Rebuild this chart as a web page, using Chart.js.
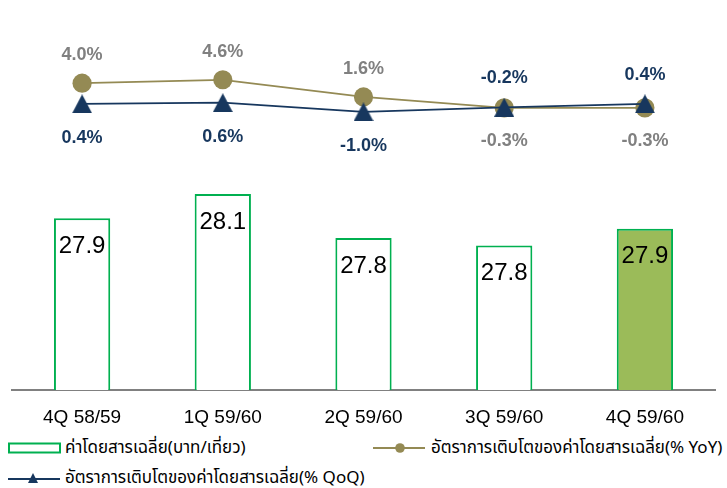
<!DOCTYPE html>
<html>
<head>
<meta charset="utf-8">
<script src="https://cdn.jsdelivr.net/npm/chart.js@4.4.1/dist/chart.umd.min.js"></script>
<style>
  html, body { margin: 0; padding: 0; background: #fff; }
  #wrap { position: relative; width: 727px; height: 488px; overflow: hidden; }
  #fareChart { position: absolute; left: 0; top: 0; }
  .legend-item { position: absolute; display: flex; align-items: center; font-family: "Noto Sans Thai", "Leelawadee UI", "Tahoma", "DejaVu Sans", sans-serif; font-size: 17px; color: #000; white-space: nowrap; height: 20px; }
  .legend-item svg { margin-right: 3px; }
</style>
</head>
<body>
<div id="wrap">
  <canvas id="fareChart" width="727" height="432"></canvas>
  <div class="legend-item" id="lgFare" style="left:8px; top:438px;"></div>
  <div class="legend-item" id="lgYoy" style="left:373px; top:438px;"></div>
  <div class="legend-item" id="lgQoq" style="left:8px; top:468px;"></div>
</div>
<script>
// data
const categories = ['4Q 58/59', '1Q 59/60', '2Q 59/60', '3Q 59/60', '4Q 59/60'];
const fareValues = [27.94, 28.10, 27.81, 27.76, 27.87];   // average fare (baht/trip)
const yoyGrowth = [4.0, 4.6, 1.6, -0.3, -0.3];             // % YoY
const qoqGrowth = [0.4, 0.6, -1.0, -0.2, 0.4];             // % QoQ
const seriesNames = [
  'ค่าโดยสารเฉลี่ย(บาท/เที่ยว)',
  'อัตราการเติบโตของค่าโดยสารเฉลี่ย(% YoY)',
  'อัตราการเติบโตของค่าโดยสารเฉลี่ย(% QoQ)'
];

const GREEN = '#00B050';
const OLIVE = '#948A54';
const NAVY = '#17375E';
const GREY_LABEL = '#808080';

// triangle marker centred on its bounding box (like the office chart)
function triangleMarker(w, h, color) {
  const c = document.createElement('canvas');
  c.width = w; c.height = h;
  const g = c.getContext('2d');
  g.fillStyle = color;
  g.beginPath();
  g.moveTo(w / 2, 0);
  g.lineTo(w, h);
  g.lineTo(0, h);
  g.closePath();
  g.fill();
  return c;
}

// value labels for bars and both lines
const valueLabels = {
  id: 'valueLabels',
  afterDatasetsDraw(chart) {
    const ctx = chart.ctx;
    ctx.save();
    ctx.textAlign = 'center';
    ctx.textBaseline = 'middle';

    ctx.font = '24px "Liberation Sans", Arial, sans-serif';
    ctx.fillStyle = '#000';
    chart.getDatasetMeta(0).data.forEach((bar, i) => {
      ctx.fillText(fareValues[i].toFixed(1), bar.x, bar.y + 28);
    });

    ctx.font = 'bold 18px "Liberation Sans", Arial, sans-serif';
    const yoyPts = chart.getDatasetMeta(1).data;
    const qoqPts = chart.getDatasetMeta(2).data;
    categories.forEach((_, i) => {
      const yoyUp = yoyGrowth[i] >= qoqGrowth[i];
      const p1 = yoyPts[i], p2 = qoqPts[i];
      ctx.fillStyle = GREY_LABEL;
      ctx.fillText(yoyGrowth[i].toFixed(1) + '%', p1.x, yoyUp ? p1.y - 28 : p1.y + 33);
      ctx.fillStyle = NAVY;
      ctx.fillText(qoqGrowth[i].toFixed(1) + '%', p2.x, yoyUp ? p2.y + 34 : p2.y - 29);
    });
    ctx.restore();
  }
};

const ctx = document.getElementById('fareChart').getContext('2d');
new Chart(ctx, {
  type: 'bar',
  data: {
    labels: categories,
    datasets: [
      {
        type: 'bar',
        label: seriesNames[0],
        data: fareValues,
        yAxisID: 'y',
        backgroundColor: fareValues.map((_, i) => i === fareValues.length - 1 ? '#9BBB59' : '#FFFFFF'),
        borderColor: GREEN,
        borderWidth: 2,
        barPercentage: 0.4,
        categoryPercentage: 1.0,
        order: 3
      },
      {
        type: 'line',
        label: seriesNames[1],
        data: yoyGrowth,
        yAxisID: 'y2',
        borderColor: OLIVE,
        borderWidth: 1.75,
        pointStyle: 'circle',
        pointRadius: 9.6,
        pointHoverRadius: 9.6,
        pointBackgroundColor: OLIVE,
        pointBorderColor: OLIVE,
        pointBorderWidth: 0,
        tension: 0,
        order: 2
      },
      {
        type: 'line',
        label: seriesNames[2],
        data: qoqGrowth,
        yAxisID: 'y2',
        borderColor: NAVY,
        borderWidth: 1.75,
        pointStyle: triangleMarker(20, 19, NAVY),
        pointRadius: 10,
        pointHoverRadius: 10,
        pointBackgroundColor: NAVY,
        pointBorderColor: NAVY,
        tension: 0,
        order: 1
      }
    ]
  },
  options: {
    responsive: false,
    animation: false,
    events: [],
    layout: { padding: { left: 11, right: 7, top: 10, bottom: 0 } },
    plugins: {
      legend: { display: false },
      tooltip: { enabled: false }
    },
    scales: {
      x: {
        grid: { display: false, drawTicks: false },
        border: { display: true, color: '#808080', width: 2 },
        ticks: {
          color: '#000',
          padding: 16,
          font: { family: '"Liberation Sans", Arial, sans-serif', size: 19 }
        },
        afterFit(axis) { axis.height = 42; }
      },
      y: {
        display: false,
        min: 26.803,
        max: 29.307
      },
      y2: {
        display: false,
        min: -49.5,
        max: 16.46
      }
    }
  },
  plugins: [valueLabels]
});

// html legend
document.getElementById('lgFare').innerHTML =
  '<svg width="54" height="12"><rect x="1" y="1.5" width="51" height="9" fill="#fff" stroke="' + GREEN + '" stroke-width="2"/></svg>' +
  '<span>' + seriesNames[0] + '</span>';
document.getElementById('lgYoy').innerHTML =
  '<svg width="55" height="12"><line x1="0" y1="6" x2="52" y2="6" stroke="' + OLIVE + '" stroke-width="2"/><circle cx="27" cy="6" r="4.8" fill="' + OLIVE + '"/></svg>' +
  '<span>' + seriesNames[1] + '</span>';
document.getElementById('lgQoq').innerHTML =
  '<svg width="54" height="12"><line x1="0" y1="7" x2="52" y2="7" stroke="' + NAVY + '" stroke-width="2"/><polygon points="25,1 30,11 20,11" fill="' + NAVY + '"/></svg>' +
  '<span>' + seriesNames[2] + '</span>';
</script>
</body>
</html>
